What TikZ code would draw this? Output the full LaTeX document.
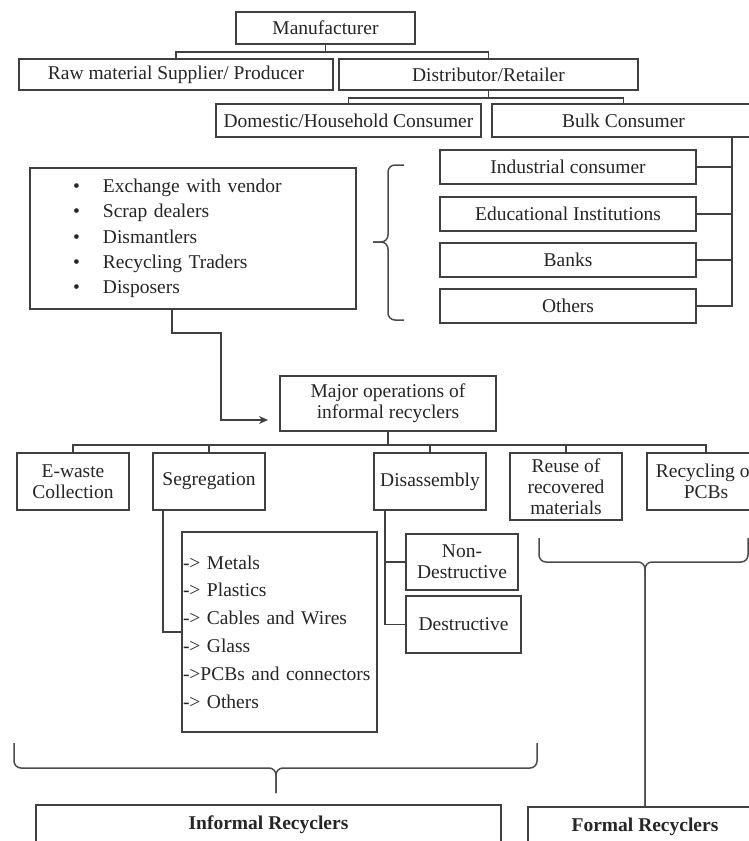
\documentclass[tikz,border=0pt]{standalone}
\usepackage{fontspec}
\setmainfont{Liberation Serif}
\usepackage{tikz}
\usetikzlibrary{arrows.meta}
\newcommand{\letra}{\fontsize{19.5}{21}\selectfont}
\tikzset{
  caja/.style  = {draw=black!75, line width=1.6pt, fill=white, inner sep=0pt, align=center, text=black!85, font=\letra},
  linea/.style = {black!75, line width=1.6pt},
  llave/.style = {black!70, line width=1.5pt, rounded corners=7pt}
}

\begin{document}
\begin{tikzpicture}[>={Stealth[length=9pt,width=8pt]}, x=1pt, y=-1pt]
  \path[use as bounding box, fill=white] (0,0) rectangle (749,841);
  \node[caja, minimum width=179pt, minimum height=32pt] (manuf) at (325.5,28) {Manufacturer};
  \node[caja, minimum width=314pt, minimum height=31pt] (raw) at (176,74.5) {Raw material Supplier/ Producer};
  \node[caja, minimum width=299pt, minimum height=31pt] (dist) at (488.5,74.5) {Distributor/Retailer};
  \node[caja, minimum width=265pt, minimum height=33pt] (dom) at (348.5,120.5) {Domestic/Household Consumer};
  \node[caja, minimum width=263pt, minimum height=33pt] (bulk) at (623.5,120.5) {Bulk Consumer};
  \node[caja, minimum width=256pt, minimum height=34pt] (ind) at (568,167) {Industrial consumer};
  \node[caja, minimum width=256pt, minimum height=34pt] (edu) at (568,214) {Educational Institutions};
  \node[caja, minimum width=256pt, minimum height=34pt] (banks) at (568,260) {Banks};
  \node[caja, minimum width=256pt, minimum height=34pt] (others) at (568,306) {Others};
  \node[caja, text width=240pt, inner xsep=43pt, minimum height=141pt, align=left,
        font={\fontsize{19.5}{25.3}\selectfont}] (list) at (193,238.5)
       {\makebox[30pt][l]{\textbullet}Exchange with vendor\\
        \makebox[30pt][l]{\textbullet}Scrap dealers\\
        \makebox[30pt][l]{\textbullet}Dismantlers\\
        \makebox[30pt][l]{\textbullet}Recycling Traders\\
        \makebox[30pt][l]{\textbullet}Disposers};
  \node[caja, minimum width=216pt, minimum height=55pt] (major) at (388,403.5) {Major operations of\\informal recyclers};
  \node[caja, minimum width=112pt, minimum height=57pt] (ewaste) at (73,481.5) {E-waste\\Collection};
  \node[caja, minimum width=112pt, minimum height=57pt] (seg) at (209,481.5) {Segregation};
  \node[caja, minimum width=112pt, minimum height=57pt] (dis) at (430,481.5) {Disassembly};
  \node[caja, minimum width=112pt, minimum height=67pt] (reuse) at (566,486.5) {Reuse of\\recovered\\materials};
  \node[caja, minimum width=118pt, minimum height=57pt] (recyc) at (706,481.5) {Recycling of\\PCBs};
  \node[caja, text width=193pt, inner xsep=1pt, minimum height=200pt, align=left,
        font={\fontsize{19.5}{27.8}\selectfont}] (metals) at (279.5,632)
       {-> Metals\\-> Plastics\\-> Cables and Wires\\-> Glass\\->PCBs and connectors\\-> Others};
  \node[caja, minimum width=112pt, minimum height=56pt] (nondes) at (462,562) {Non-\\Destructive};
  \node[caja, minimum width=115pt, minimum height=57pt] (des) at (463.5,624.5) {Destructive};
  \node[caja, minimum width=465pt, minimum height=40pt, font=\letra\bfseries] (informal) at (268.5,825) {Informal Recyclers};
  \node[caja, minimum width=234pt, minimum height=40pt, font=\letra\bfseries] (formal) at (645,827) {Formal Recyclers};
  \draw[linea] (manuf.south) -- ++(0,7) -| (raw.north);
  \draw[linea] (manuf.south) -- ++(0,7) -| (dist.north);
  \draw[linea] (dist.south) -- ++(0,7) -| (dom.north);
  \draw[linea] (dist.south) -- ++(0,7) -| (bulk.north);
  \coordinate (barra) at ([xshift=-24pt]bulk.south east);
  \foreach \n in {ind,edu,banks,others}
    \draw[linea] (\n.east) -| (barra);
  \draw[llave] (404,165) -- (388,165) -- (388,242) -- (373,242);
  \draw[llave] (404,320) -- (388,320) -- (388,242) -- (373,242);
  \coordinate (punta) at (268,420);
  \draw[linea, ->] ([xshift=-21pt]list.south) -- ++(0,23) -- ++(49,0) |- (punta);
  \foreach \n in {ewaste,seg,dis,reuse,recyc}
    \draw[linea] (major.south) -- ++(0,13) -| (\n.north);
  \draw[linea] ([xshift=-46pt]seg.south) |- (metals.west);
  \draw[linea] ([xshift=-45pt]dis.south) |- (nondes.west);
  \draw[linea] ([xshift=-45pt]dis.south) |- (des.west);
  \draw[llave] (14,743) -- (14,768) -- (276,768) -- (276,793);
  \draw[llave] (537,743) -- (537,768) -- (276,768) -- (276,793);
  \draw[llave] (539,538) -- (539,562) -- (645,562) -- (formal.north);
  \draw[llave] (748,538) -- (748,562) -- (645,562) -- (formal.north);
\end{tikzpicture}
\end{document}
